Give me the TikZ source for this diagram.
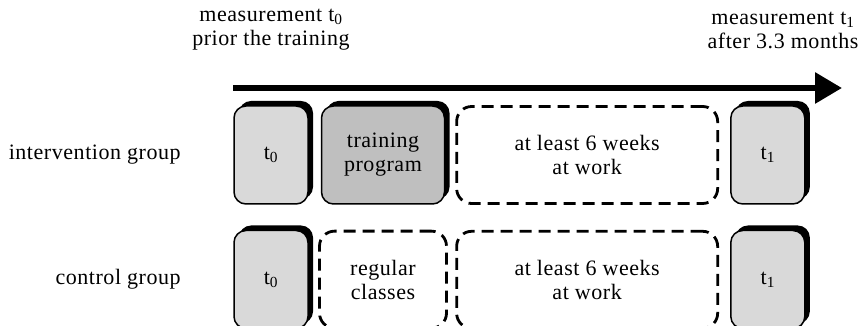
\documentclass[tikz,border=0pt]{standalone}
\usepackage{fontspec}
\setmainfont[LetterSpace=2.5]{Liberation Serif}
\usetikzlibrary{positioning,arrows.meta,shadows}

\begin{document}
\begin{tikzpicture}[
  x=1pt, y=1pt,
  font=\fontsize{22}{24}\selectfont,
  >={Triangle[length=27pt,width=30pt]},
  tbox/.style={draw, line width=1.5pt, rounded corners=12pt, minimum height=98pt, align=center,
    drop shadow={shadow xshift=5pt, shadow yshift=5pt, fill=black, opacity=1}},
  meas/.style={tbox, fill=black!15, minimum width=74pt},
  train/.style={tbox, fill=black!25, minimum width=123pt},
  period/.style={draw, line width=2.8pt, dash pattern=on 12pt off 7pt, rounded corners=15pt,
    minimum height=97pt, align=center},
  lbl/.style={align=center},
  arr/.style={->, line width=6pt},
]
\useasboundingbox (0,0) rectangle (861,326);

% Time line
\coordinate (tl0) at (233,238);
\coordinate (tl1) at (842,238);
\draw[arr] (tl0) -- (tl1);

% Measurement points
\node[lbl] (m0) at (271,296) {measurement t\textsubscript{0}\\prior the training};
\node[lbl] (m1) at (783,296) {measurement t\textsubscript{1}\\after 3.3 months};

% Intervention group
\node[meas] (t0a) at (271,171) {t\textsubscript{0}};
\node[train, right=12pt of t0a] (train) {training\\program};
\node[period, minimum width=261pt, right=10pt of train] (worka) {at least 6 weeks\\at work};
\node[meas, right=11pt of worka] (t1a) {t\textsubscript{1}};

% Control group
\node[meas, below=25pt of t0a] (t0b) {t\textsubscript{0}};
\node[period, minimum width=127pt, below=25pt of train] (classes) {regular\\classes};
\node[period, minimum width=261pt, below=25pt of worka] (workb) {at least 6 weeks\\at work};
\node[meas, below=25pt of t1a] (t1b) {t\textsubscript{1}};

% Group names
\node[left=49pt of t0a] (intv) {intervention group};
\node[left=49pt of t0b] (ctrl) {control group};

\end{tikzpicture}
\end{document}
